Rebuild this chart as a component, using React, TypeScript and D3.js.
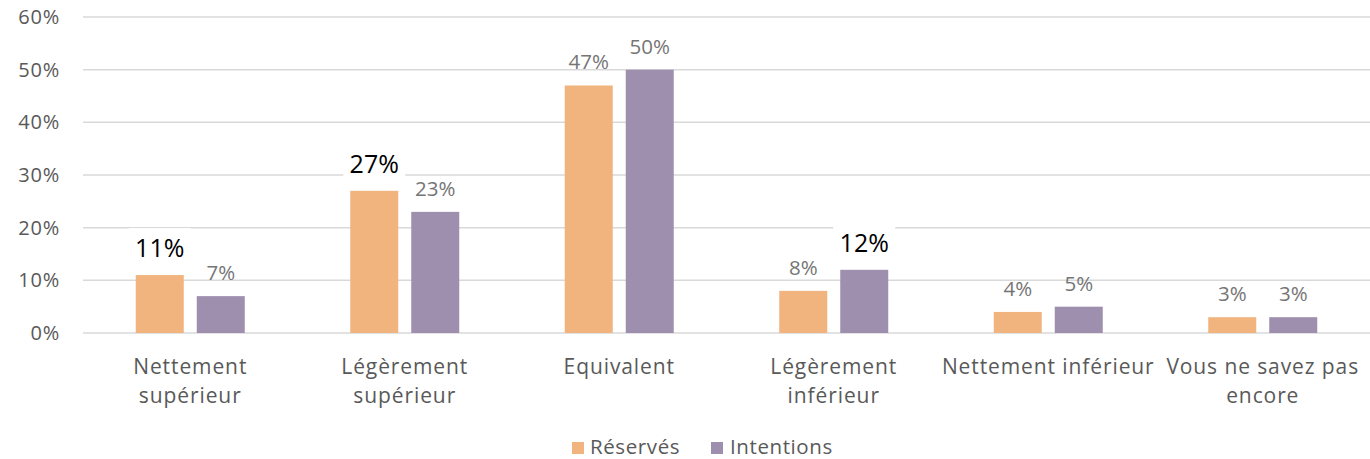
import React from "react";
import * as d3 from "d3";

const categories = [
  ["Nettement", "supérieur"],
  ["Légèrement", "supérieur"],
  ["Equivalent"],
  ["Légèrement", "inférieur"],
  ["Nettement inférieur"],
  ["Vous ne savez pas", "encore"],
];
const reserves = [11, 27, 47, 8, 4, 3];
const intentions = [7, 23, 50, 12, 5, 3];
const highlighted = [
  [true, false],
  [true, false],
  [false, false],
  [false, true],
  [false, false],
  [false, false],
];
const yTicks = [0, 10, 20, 30, 40, 50, 60];
const seriesNames = ["Réservés", "Intentions"];
const colors = ["#F2B47F", "#9F8FAF"];

const W = 1370;
const H = 459;
const left = 83;
const right = 1370;
const top = 17;
const bottom = 333;
const FONT = "'Open Sans', sans-serif";

export default function App() {
  const x = d3.scaleBand<number>().domain(d3.range(categories.length)).range([left, right]);
  const y = d3.scaleLinear().domain([0, 60]).range([bottom, top]);
  const barW = 48;
  const gap = 13;
  const series = [reserves, intentions];

  return (
    <svg width={W} height={H} style={{ position: "absolute", left: 0, top: 0 }}>
      <rect width={W} height={H} fill="#fff" />
      {yTicks.map((t) => (
        <g key={t}>
          <line x1={left} x2={right} y1={y(t)} y2={y(t)} stroke="#d9d9d9" strokeWidth={1.5} />
          <text x={60} y={y(t) + 7} textAnchor="end" fontFamily={FONT} fontSize={20} letterSpacing={0.8} fill="#595959">
            {t}%
          </text>
        </g>
      ))}
      {categories.map((c, i) => {
        const cx = (x(i) as number) + x.bandwidth() / 2;
        return (
          <g key={i}>
            {series.map((s, j) => {
              const bx = j === 0 ? cx - gap / 2 - barW : cx + gap / 2;
              const v = s[i];
              const hl = highlighted[i][j];
              const lx = bx + barW / 2;
              return (
                <g key={j}>
                  <rect x={bx} y={y(v)} width={barW} height={bottom - y(v)} fill={colors[j]} />
                  {hl && (
                    <rect x={lx - 31} y={y(v) - 47} width={62} height={40} fill="#fff" />
                  )}
                  <text
                    x={lx}
                    y={hl ? y(v) - 18 : y(v) - 16}
                    textAnchor="middle"
                    fontFamily={FONT}
                    fontSize={hl ? 25 : 20.5}
                    fill={hl ? "#000" : "#757575"}
                  >
                    {v}%
                  </text>
                </g>
              );
            })}
            {c.map((line, k) => (
              <text
                key={k}
                x={cx}
                y={374 + k * 29}
                textAnchor="middle"
                fontFamily={FONT}
                fontSize={21}
                letterSpacing={0.9}
                fill="#595959"
              >
                {line}
              </text>
            ))}
          </g>
        );
      })}
      <g>
        <rect x={572} y={442} width={12} height={12} fill={colors[0]} />
        <text x={590} y={454} fontFamily={FONT} fontSize={20.5} letterSpacing={0.6} fill="#595959">
          {seriesNames[0]}
        </text>
        <rect x={711} y={442} width={12} height={12} fill={colors[1]} />
        <text x={730} y={454} fontFamily={FONT} fontSize={20.5} letterSpacing={0.6} fill="#595959">
          {seriesNames[1]}
        </text>
      </g>
    </svg>
  );
}
